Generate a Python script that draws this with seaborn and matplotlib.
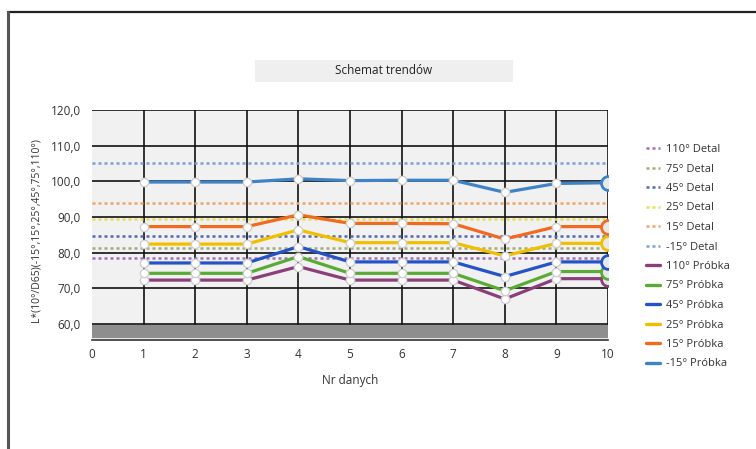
import matplotlib
matplotlib.use("Agg")
import matplotlib.pyplot as plt
from matplotlib.lines import Line2D
from matplotlib.patches import Rectangle
import numpy as np
import pandas as pd
import seaborn as sns

sns.set_theme(style="white")
plt.rcParams['font.family'] = ['Open Sans', 'DejaVu Sans']

# Measurement numbers
nr = [1, 2, 3, 4, 5, 6, 7, 8, 9, 10]

# Sample series (Próbka)
probka_110 = [72.3, 72.3, 72.3, 76.1, 72.3, 72.3, 72.3, 67.0, 72.7, 72.7]
probka_75 = [74.2, 74.2, 74.2, 78.9, 74.2, 74.2, 74.2, 69.3, 74.7, 74.7]
probka_45 = [77.1, 77.1, 77.1, 81.7, 77.4, 77.4, 77.4, 73.3, 77.4, 77.4]
probka_25 = [82.4, 82.4, 82.4, 86.4, 82.8, 82.8, 82.8, 79.1, 82.6, 82.6]
probka_15 = [87.3, 87.3, 87.3, 90.6, 88.2, 88.2, 88.1, 83.8, 87.3, 87.3]
probka_m15 = [99.8, 99.8, 99.8, 100.7, 100.2, 100.3, 100.3, 96.9, 99.4, 99.6]

# Reference part values (Detal)
detal_names = ["110° Detal", "75° Detal", "45° Detal", "25° Detal", "15° Detal", "-15° Detal"]
detal_values = [78.4, 81.4, 84.6, 89.3, 94.0, 105.2]
detal_colors = ["#a070b8", "#a4ad78", "#5468b0", "#e6df55", "#f0a468", "#7c9fd6"]

probka_names = ["110° Próbka", "75° Próbka", "45° Próbka", "25° Próbka", "15° Próbka", "-15° Próbka"]
probka_series = [probka_110, probka_75, probka_45, probka_25, probka_15, probka_m15]
probka_colors = ["#8a3f78", "#5aab35", "#2453c8", "#f0c000", "#f26a1e", "#3f83c6"]

y_ticks = [60, 70, 80, 90, 100, 110, 120]
x_ticks = [0, 1, 2, 3, 4, 5, 6, 7, 8, 9, 10]

df = pd.DataFrame({
    "Nr danych": np.tile(nr, len(probka_names)),
    "L": np.concatenate(probka_series),
    "Seria": np.repeat(probka_names, len(nr)),
})

fig = plt.figure(figsize=(7.56, 4.49), dpi=100)
ax = fig.add_axes([92 / 756, 1 - 340 / 449, 516 / 756, 230 / 449])
ax.set_facecolor("white")
ax.set_xlim(0, 10)
ax.set_ylim(55.5, 120)

# plot background and floor band
ax.axhspan(60, 120, color="#f1f1f1", zorder=0)
ax.axhspan(56.4, 59.6, color="#8e8e8e", zorder=0.5)

# grid
for yv in y_ticks:
    ax.axhline(yv, color="#111111", lw=1.2, zorder=1)
for xv in x_ticks[1:]:
    ax.plot([xv, xv], [60, 120], color="#111111", lw=1.2, zorder=1)

# reference lines
for name, val, col in zip(detal_names, detal_values, detal_colors):
    ax.hlines(val, 0, 10, colors=col, linestyles=(0, (1.2, 1.2)), lw=1.8, zorder=2)

# sample series
pal = dict(zip(probka_names, probka_colors))
sns.lineplot(data=df, x="Nr danych", y="L", hue="Seria", palette=pal, lw=2.3,
             marker="o", markersize=6, markerfacecolor="white",
             markeredgecolor="#cfcfcf", markeredgewidth=1.0,
             legend=False, ax=ax, zorder=3)
# emphasised last point
for name, vals, col in zip(probka_names, probka_series, probka_colors):
    ax.plot(nr[-1], vals[-1], "o", ms=10, mfc="#e8e8e8", mec=col, mew=2.0,
            zorder=4, clip_on=True)

for s in ["top", "right", "left"]:
    ax.spines[s].set_visible(False)
ax.spines["bottom"].set_color("#333333")
ax.spines["bottom"].set_linewidth(1.2)

ax.set_xticks(x_ticks)
ax.set_xticklabels([str(v) for v in x_ticks])
ax.set_yticks(y_ticks)
ax.set_yticklabels([f"{v},0" for v in y_ticks])
ax.tick_params(axis="x", direction="inout", length=6, width=1, color="#333333",
               labelsize=8.5, labelcolor="#333333", pad=3)
ax.tick_params(axis="y", length=0, labelsize=8.5, labelcolor="#333333", pad=8)
ax.set_xlabel("Nr danych", fontsize=8.5, color="#333333", labelpad=9)
ax.set_ylabel("L*(10°/D65)(-15°,15°,25°,45°,75°,110°)", fontsize=7.5,
              color="#333333", labelpad=6)
ax.yaxis.set_label_coords(-0.097, 0.48)

# title box
fig.patches.append(Rectangle((255 / 756, 1 - 82 / 449), 258 / 756, 22 / 449,
                             transform=fig.transFigure, facecolor="#efefef",
                             edgecolor="none"))
fig.text(384 / 756, 1 - 71 / 449, "Schemat trendów", ha="center", va="center",
         fontsize=8.5, color="#222222")

# outer frame
fig.add_artist(Line2D([7.5 / 756, 1], [1 - 11.5 / 449] * 2, color="#222222", lw=1.6,
                      transform=fig.transFigure))
fig.add_artist(Line2D([7.5 / 756] * 2, [0, 1 - 11.5 / 449], color="#555555", lw=2.2,
                      transform=fig.transFigure))

# legend
handles = []
labels = []
for name, col in zip(detal_names, detal_colors):
    handles.append(Line2D([], [], color=col, lw=1.8, linestyle=(0, (1.2, 1.2))))
    labels.append(name)
for name, col in zip(probka_names, probka_colors):
    handles.append(Line2D([], [], color=col, lw=2.4))
    labels.append(name)
fig.legend(handles, labels, loc="upper left", bbox_to_anchor=(636 / 756, 1 - 134 / 449),
           frameon=False, fontsize=8, handlelength=1.3, handletextpad=0.5,
           labelspacing=0.765, labelcolor="#333333")

fig.savefig("out.png", dpi=100)
